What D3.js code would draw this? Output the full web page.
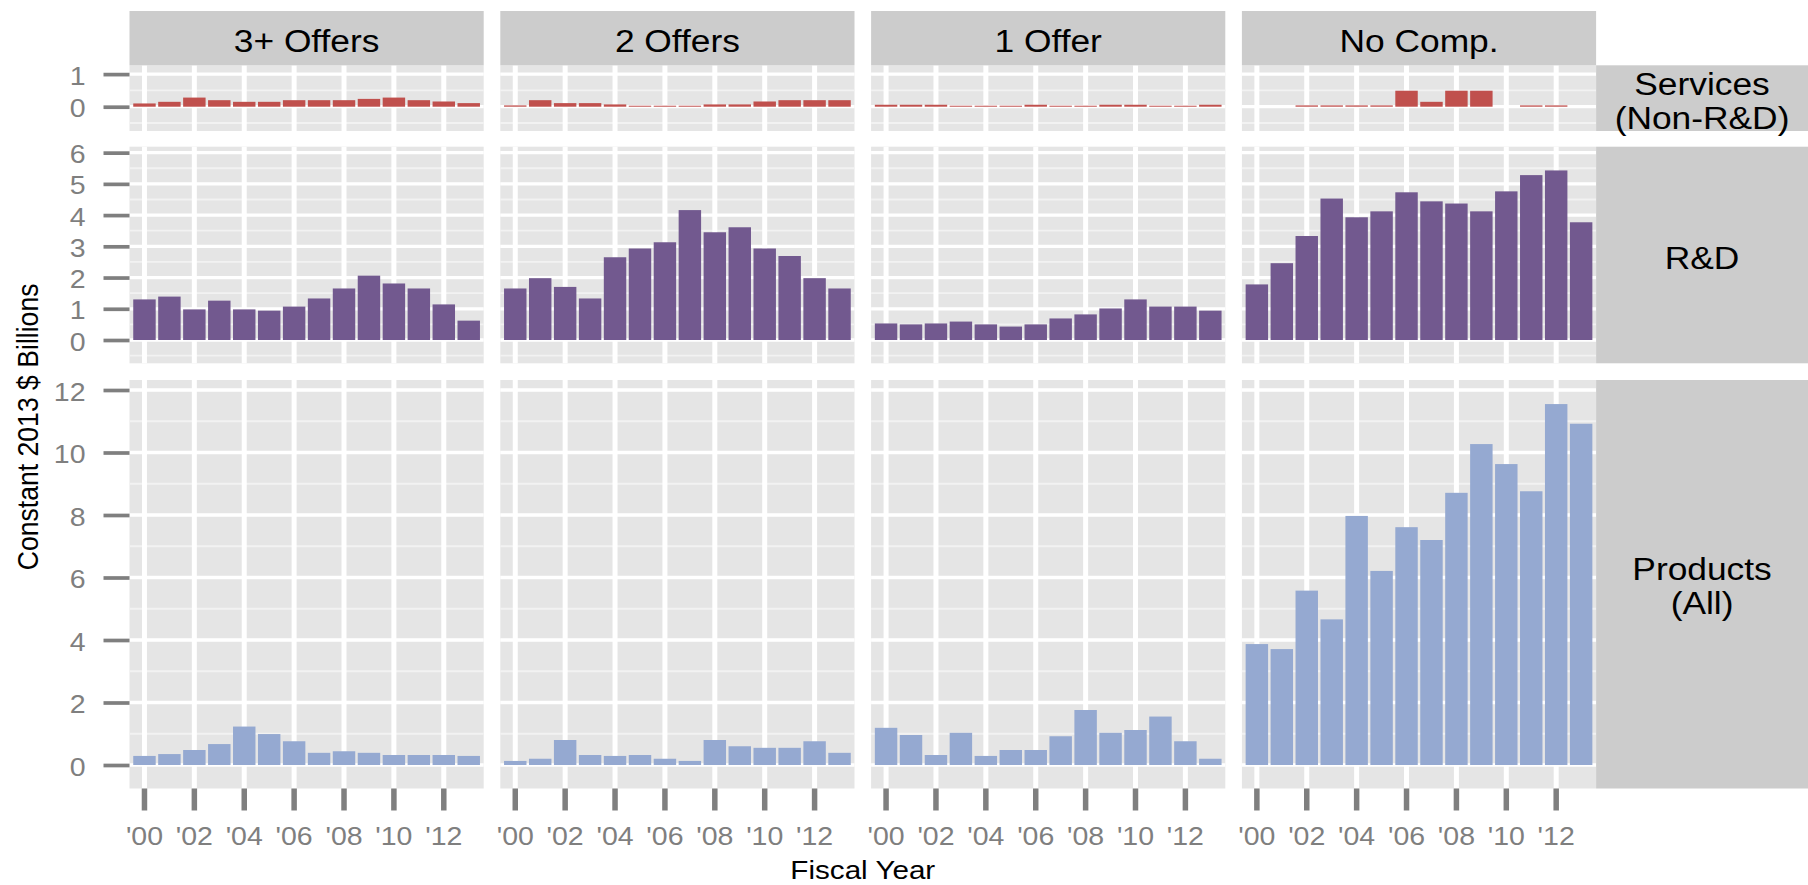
<!DOCTYPE html>
<html>
<head>
<meta charset="utf-8">
<script src="https://cdn.jsdelivr.net/npm/d3@7"></script>
<style>
  body { margin: 0; background: #fff; }
  svg { display: block; font-family: "Liberation Sans", Arial, sans-serif; }
</style>
</head>
<body>
<svg id="chart" width="1808" height="885"></svg>
<script>
// ---- data ----
const years = [2000, 2001, 2002, 2003, 2004, 2005, 2006, 2007, 2008, 2009, 2010, 2011, 2012, 2013];
const yearTicks = [2000, 2002, 2004, 2006, 2008, 2010, 2012];
const competition = ["3+ Offers", "2 Offers", "1 Offer", "No Comp."];

const servicesLabel = ["Services", "(Non-R&D)"];
const rdLabel = ["R&D"];
const productsLabel = ["Products", "(All)"];

const servicesTicks = [0, 1];
const rdTicks = [0, 1, 2, 3, 4, 5, 6];
const productsTicks = [0, 2, 4, 6, 8, 10, 12];

// Services (Non-R&D)
const services3 = [0.10, 0.15, 0.28, 0.20, 0.15, 0.15, 0.20, 0.20, 0.20, 0.24, 0.28, 0.20, 0.16, 0.11];
const services2 = [0.04, 0.20, 0.11, 0.11, 0.07, 0.03, 0.03, 0.03, 0.07, 0.07, 0.16, 0.20, 0.20, 0.20];
const services1 = [0.06, 0.06, 0.06, 0.03, 0.03, 0.03, 0.06, 0.03, 0.03, 0.06, 0.06, 0.03, 0.03, 0.06];
const servicesNo = [null, null, 0.04, 0.04, 0.04, 0.04, 0.49, 0.15, 0.49, 0.49, null, 0.04, 0.04, null];

// R&D
const rd3 = [1.30, 1.39, 0.98, 1.26, 0.98, 0.94, 1.07, 1.33, 1.65, 2.06, 1.81, 1.65, 1.14, 0.62];
const rd2 = [1.65, 1.98, 1.70, 1.33, 2.65, 2.93, 3.13, 4.16, 3.45, 3.61, 2.93, 2.69, 1.98, 1.65];
const rd1 = [0.53, 0.50, 0.53, 0.59, 0.50, 0.43, 0.50, 0.69, 0.82, 1.01, 1.30, 1.07, 1.07, 0.94];
const rdNo = [1.78, 2.46, 3.33, 4.53, 3.93, 4.12, 4.73, 4.44, 4.37, 4.12, 4.76, 5.28, 5.43, 3.77];

// Products (All)
const products3 = [0.29, 0.35, 0.48, 0.67, 1.23, 0.99, 0.76, 0.39, 0.44, 0.39, 0.32, 0.32, 0.32, 0.29];
const products2 = [0.13, 0.20, 0.80, 0.32, 0.29, 0.32, 0.20, 0.13, 0.80, 0.60, 0.55, 0.55, 0.76, 0.39];
const products1 = [1.19, 0.96, 0.32, 1.03, 0.29, 0.48, 0.48, 0.92, 1.76, 1.03, 1.12, 1.55, 0.76, 0.20];
const productsNo = [3.87, 3.71, 5.58, 4.66, 7.97, 6.21, 7.61, 7.20, 8.71, 10.27, 9.63, 8.76, 11.55, 10.92];

// ---- layout ----
const panelW = 354.2, panelGap = 16.6, left0 = 129.5;
const stripTop = 11, stripBottom = 65.3;
const rightStripW = 1808 - (left0 + 4 * panelW + 3 * panelGap);
const sx = 1.14; // reference text is slightly wide
const gray50 = "#7f7f7f";

const rows = [
  {label: servicesLabel, ticks: servicesTicks, top: 65.3, bottom: 131, domain: [-0.745, 1.27],
   color: "#c0504d", series: [services3, services2, services1, servicesNo], textY: [95, 129]},
  {label: rdLabel, ticks: rdTicks, top: 146.7, bottom: 363.3, domain: [-0.746, 6.19],
   color: "#72598f", series: [rd3, rd2, rd1, rdNo], textY: [268.5]},
  {label: productsLabel, ticks: productsTicks, top: 380, bottom: 788.5, domain: [-0.752, 12.32],
   color: "#95a9d1", series: [products3, products2, products1, productsNo], textY: [579.5, 613.5]}
];

const svg = d3.select("#chart");

const x = d3.scaleBand()
  .domain(years)
  .range([0, panelW])
  .paddingInner(0.1)
  .paddingOuter(0.15);

const panelLeft = i => left0 + i * (panelW + panelGap);
const panelRight = left0 + 4 * panelW + 3 * panelGap;

// minor breaks halfway between majors (and one step beyond)
function minorBreaks(ticks, domain) {
  const step = ticks[1] - ticks[0];
  const out = [];
  for (let v = ticks[0] - step / 2; v <= ticks[ticks.length - 1] + step; v += step) {
    if (v > domain[0] && v < domain[1]) out.push(v);
  }
  return out;
}

rows.forEach((row, r) => {
  const y = d3.scaleLinear().domain(row.domain).range([row.bottom, row.top]);
  const minors = minorBreaks(row.ticks, row.domain);

  competition.forEach((comp, c) => {
    const g = svg.append("g").attr("transform", `translate(${panelLeft(c)},0)`);

    g.append("rect")
      .attr("x", 0).attr("y", row.top)
      .attr("width", panelW).attr("height", row.bottom - row.top)
      .attr("fill", "#e5e5e5");

    g.selectAll(".minor").data(minors).enter().append("line")
      .attr("x1", 0).attr("x2", panelW)
      .attr("y1", d => y(d)).attr("y2", d => y(d))
      .attr("stroke", "#f2f2f2").attr("stroke-width", 1.8);

    g.selectAll(".major").data(row.ticks).enter().append("line")
      .attr("x1", 0).attr("x2", panelW)
      .attr("y1", d => y(d)).attr("y2", d => y(d))
      .attr("stroke", "#fff").attr("stroke-width", 3.3);

    g.selectAll(".vgrid").data(yearTicks).enter().append("line")
      .attr("x1", d => x(d) + x.bandwidth() / 2).attr("x2", d => x(d) + x.bandwidth() / 2)
      .attr("y1", row.top).attr("y2", row.bottom)
      .attr("stroke", "#fff").attr("stroke-width", 5);

    const vals = years.map((yr, i) => ({year: yr, value: row.series[c][i]}))
      .filter(d => d.value != null);

    g.selectAll(".bar").data(vals).enter().append("rect")
      .attr("x", d => x(d.year))
      .attr("width", x.bandwidth())
      .attr("y", d => y(d.value))
      .attr("height", d => y(0) - y(d.value))
      .attr("fill", row.color);

    // x axis under the bottom row
    if (r === rows.length - 1) {
      const ax = svg.append("g")
        .attr("transform", `translate(${panelLeft(c)},${row.bottom})`)
        .call(d3.axisBottom(x).tickValues(yearTicks).tickSize(22)
          .tickFormat(d => "'" + String(d).slice(2)));
      ax.select(".domain").remove();
      ax.selectAll(".tick line").attr("stroke", gray50).attr("stroke-width", 5.5);
      ax.selectAll(".tick text")
        .attr("y", 845 - row.bottom).attr("dy", 0)
        .attr("fill", gray50)
        .attr("font-size", 25)
        .attr("font-family", "Liberation Sans, Arial, sans-serif")
        .attr("transform", `scale(${sx},1)`);
    }
  });

  // y axis at the left
  const ay = svg.append("g")
    .attr("transform", `translate(${left0},0)`)
    .call(d3.axisLeft(y).tickValues(row.ticks).tickSize(26).tickFormat(d3.format("d")));
  ay.select(".domain").remove();
  ay.selectAll(".tick line").attr("stroke", gray50).attr("stroke-width", 3.7);
  ay.selectAll(".tick text")
    .attr("x", 0).attr("dy", "0.4em")
    .attr("transform", `translate(-44,0) scale(${sx},1)`)
    .attr("fill", gray50)
    .attr("font-size", 25)
    .attr("font-family", "Liberation Sans, Arial, sans-serif");

  // right strip
  svg.append("rect")
    .attr("x", panelRight).attr("y", row.top)
    .attr("width", rightStripW).attr("height", row.bottom - row.top)
    .attr("fill", "#cccccc");
  row.label.forEach((line, k) => {
    svg.append("text")
      .attr("transform", `translate(${panelRight + rightStripW / 2},${row.textY[k]}) scale(${sx},1)`)
      .attr("text-anchor", "middle")
      .attr("font-size", 31)
      .attr("fill", "#000")
      .text(line);
  });
});

// top strips
competition.forEach((comp, c) => {
  svg.append("rect")
    .attr("x", panelLeft(c)).attr("y", stripTop)
    .attr("width", panelW).attr("height", stripBottom - stripTop)
    .attr("fill", "#cccccc");
  svg.append("text")
    .attr("transform", `translate(${panelLeft(c) + panelW / 2},51.7) scale(${sx},1)`)
    .attr("text-anchor", "middle")
    .attr("font-size", 31)
    .attr("fill", "#000")
    .text(comp);
});

// axis titles
svg.append("text")
  .attr("transform", `translate(${(left0 + panelRight) / 2},878.5) scale(${sx},1)`)
  .attr("text-anchor", "middle")
  .attr("font-size", 26)
  .text("Fiscal Year");

svg.append("text")
  .attr("transform", `translate(37.5,${(rows[0].top + rows[2].bottom) / 2}) rotate(-90) scale(1,${sx})`)
  .attr("text-anchor", "middle")
  .attr("font-size", 26.6)
  .text("Constant 2013 $ Billions");
</script>
</body>
</html>
